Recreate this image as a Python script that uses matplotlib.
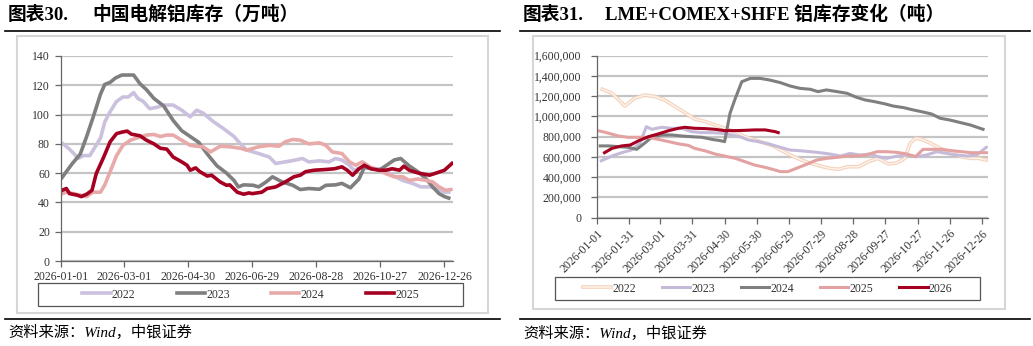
import matplotlib
matplotlib.use("Agg")
import matplotlib.pyplot as plt
from matplotlib.lines import Line2D
from matplotlib.patches import Rectangle
import matplotlib.patheffects as pe
from matplotlib.ticker import FuncFormatter

plt.rcParams['font.family'] = ['Liberation Serif', 'Noto Sans CJK SC', 'DejaVu Sans']

# ---------------- data: China electrolytic aluminium inventory (10k t) ----------------
cn_2022_days = [2,7,12,16,21,27,32,37,41,46,52,58,63,68,72,77,83,90,96,105,113,121,127,133,143,152,162,168,174,185,195,201,210,220,226,232,242,251,257,263,270,274,282,292,301,310,320,329,337,345,352,359,363]
cn_2022_vals = [80,77,73.4,70,72,72,78,84,95,102,109,112,112,115,111,109,104,105,106.5,106.5,103,98.5,103,101,95,90.5,85,80,75.7,73.4,71,66.6,67.7,69,70,67.7,68.4,67.7,70,69,65.4,62,64,63,63,58.6,55,53,50.6,50.6,49.5,47,47]
cn_2023_days = [1,5,10,18,24,30,37,41,46,51,57,68,74,80,87,96,105,113,121,129,137,146,155,162,166,171,180,185,192,198,207,217,224,232,242,248,257,263,271,279,284,292,298,304,312,318,326,334,342,348,354,359,363]
cn_2023_vals = [57,61,66,73,85,98,114,120.6,122,125,127,127,121,117,111,106,96,89,85,81,73,65,60,55,50.6,52,51.7,50.6,54,57.5,54,51.7,48.8,49.5,49,51.7,52,53,50,56,64,63,62,65,69,70,65,61,56,50.6,46,44,43]
cn_2024_days = [1,5,12,18,24,30,37,41,46,52,58,65,71,80,87,93,99,105,113,121,127,133,140,149,158,168,174,185,195,204,210,217,224,232,242,248,254,263,270,276,282,290,298,304,312,320,326,334,342,348,354,360,365]
cn_2024_vals = [46,47,46,45,44,47,47,52,61,72,79,82.5,84,86,86.4,85,86,86,82.5,79,78.4,78,74.5,78.4,78,77,75.7,78,79,78.4,81.4,83,82.5,80,80.7,79,74.5,73.4,67.7,65.4,67.7,64,62,59.7,57.5,57.5,55,56,55,54,50.6,48.3,48.8]
cn_2025_days = [1,5,8,15,19,24,29,33,40,46,52,57,62,66,74,80,87,93,99,105,113,118,121,126,130,137,141,149,155,158,165,171,176,179,188,193,201,210,218,224,229,237,248,256,263,268,273,279,284,290,298,304,310,317,321,326,335,345,351,359,366]
cn_2025_vals = [48.3,49.5,46,45,44,45.6,48.3,59.7,71,81.4,87,88,88.7,86.6,85.5,82.5,80,77,76.4,71,67.7,65.4,62,63.6,61,58,58.6,54,51.7,52,47,45.6,46.5,46,47,49.5,50.6,54,57.5,58.6,61,62,62.5,63,64.3,62,58.6,63,65.4,63,62,62,63,62,64.8,62,60,58.6,60,62,66.6]
cn_labels = ['2022', '2023', '2024', '2025']
cn_tick_days = [0, 59, 119, 179, 239, 299, 359]
cn_tick_labels = ['2026-01-01', '2026-03-01', '2026-04-30', '2026-06-29', '2026-08-28', '2026-10-27', '2026-12-26']
cn_yticks = [0, 20, 40, 60, 80, 100, 120, 140]

# ---------------- data: LME+COMEX+SHFE aluminium inventory (t) ----------------
ex_2022_days = [5,14,26,35,45,54,63,73,82,91,101,110,119,129,138,147,157,166,171,180,189,199,208,217,225,234,244,253,262,272,280,287,292,297,303,311,320,329,339,348,356,363]
ex_2022_vals = [1268000,1229000,1103000,1179000,1212000,1196000,1163000,1097000,1038000,975000,949000,916000,883000,850000,800000,768000,735000,702000,669000,620000,577000,537000,511000,488000,478000,504000,504000,553000,586000,530000,543000,586000,735000,784000,774000,735000,685000,652000,603000,586000,586000,570000]
ex_2023_days = [4,14,23,32,40,46,51,60,70,79,88,98,107,116,126,135,141,150,160,171,180,189,199,208,217,227,236,245,255,262,270,280,289,298,307,317,326,335,345,354,363]
ex_2023_vals = [563000,609000,642000,668000,735000,899000,873000,893000,883000,883000,850000,840000,840000,834000,817000,794000,768000,752000,729000,695000,668000,662000,652000,642000,629000,609000,635000,619000,629000,603000,586000,609000,619000,603000,619000,652000,635000,619000,609000,619000,695000]
ex_2024_days = [3,11,20,29,37,45,51,60,70,79,88,98,107,115,119,124,129,135,143,152,161,171,180,189,199,206,214,224,233,242,250,259,269,276,286,295,304,312,320,329,339,348,360]
ex_2024_vals = [709000,709000,702000,695000,675000,741000,794000,817000,817000,807000,800000,794000,774000,761000,751000,1030000,1180000,1343000,1376000,1376000,1360000,1334000,1301000,1278000,1268000,1245000,1262000,1245000,1229000,1189000,1163000,1146000,1123000,1103000,1087000,1064000,1044000,1024000,982000,965000,939000,916000,873000]
ex_2025_days = [1,11,20,29,39,48,57,67,76,85,91,101,110,119,129,138,147,157,166,171,178,186,196,205,214,224,233,242,251,261,270,280,289,297,304,312,321,331,340,349,359,365]
ex_2025_vals = [860000,834000,807000,794000,794000,794000,774000,751000,729000,715000,685000,660000,629000,609000,586000,553000,520000,497000,471000,455000,455000,488000,530000,570000,586000,596000,609000,609000,619000,652000,652000,645000,629000,603000,675000,675000,675000,662000,652000,642000,642000,642000]
ex_2026_days = [7,14,23,31,39,48,57,67,76,82,91,101,110,119,129,138,147,157,166,169]
ex_2026_vals = [642000,685000,709000,718000,761000,800000,827000,860000,883000,893000,883000,880000,873000,860000,860000,863000,867000,867000,850000,840000]
ex_labels = ['2022', '2023', '2024', '2025', '2026']
ex_tick_days = [0, 30, 59, 89, 119, 149, 179, 209, 239, 269, 299, 329, 359]
ex_tick_labels = ['2026-01-01', '2026-01-31', '2026-03-01', '2026-03-31', '2026-04-30', '2026-05-30',
                  '2026-06-29', '2026-07-29', '2026-08-28', '2026-09-27', '2026-10-27', '2026-11-26', '2026-12-26']
ex_yticks = [0, 200000, 400000, 600000, 800000, 1000000, 1200000, 1400000, 1600000]

# ---------------- layout ----------------
W, H = 1033, 346
fig = plt.figure(figsize=(W / 100, H / 100), dpi=100)


def box(x0, y0, x1, y1):
    return [x0 / W, 1 - y1 / H, (x1 - x0) / W, (y1 - y0) / H]


def hline(x0, x1, y, color='black', lw=1.2):
    fig.add_artist(Line2D([x0 / W, x1 / W], [1 - y / H, 1 - y / H], color=color, lw=lw,
                          transform=fig.transFigure))


def rect(x0, y0, x1, y1, color, lw):
    fig.add_artist(Rectangle((x0 / W, 1 - y1 / H), (x1 - x0) / W, (y1 - y0) / H, fill=False,
                             edgecolor=color, lw=lw, transform=fig.transFigure))


def ftext(x, y, s, **kw):
    fig.text(x / W, 1 - y / H, s, va='center', ha='left', **kw)


TXT = '#333333'
AXC = '#666666'
GRID = '#c4c4c4'

# titles
title_kw = dict(fontsize=13.5, fontweight='bold', color='black',
                family=['Liberation Serif', 'Noto Sans CJK SC'])
ftext(8, 15, '图表30.', **title_kw)
ftext(92, 15, '中国电解铝库存（万吨）', **title_kw)
ftext(523, 15, '图表31.', **title_kw)
ftext(605, 15, 'LME+COMEX+SHFE 铝库存变化（吨）', **title_kw)
hline(5, 500, 31)
hline(520, 1030, 31)

# frames
rect(17, 36, 488, 313, '#d6d6d6', 1.5)
rect(533, 36, 1005, 309, '#d6d6d6', 1.5)

# source lines
hline(5, 500, 319)
hline(520, 1030, 319)
src_kw = dict(fontsize=11, style='italic', color='black',
              family=['Liberation Serif', 'Noto Sans CJK SC'])
ftext(8, 332, '资料来源：Wind，中银证券', **src_kw)
ftext(523, 333, '资料来源：Wind，中银证券', **src_kw)


def style_axes(ax):
    for s in ['top', 'right']:
        ax.spines[s].set_visible(False)
    for s in ['left', 'bottom']:
        ax.spines[s].set_color(AXC)
        ax.spines[s].set_linewidth(0.9)
    ax.yaxis.grid(True, color=GRID, lw=1.6)
    ax.set_axisbelow(True)
    ax.tick_params(axis='both', direction='out', length=4, width=0.9, color=AXC,
                   labelsize=8.5, labelcolor=TXT)
    ax.set_facecolor('none')


# ---------------- left chart ----------------
ax1 = fig.add_axes(box(61, 56, 453, 261))
style_axes(ax1)
cn_colors = ['#cbc1de', '#7f7f7f', '#e8aaa8', '#a50021']
cn_series = [(cn_2022_days, cn_2022_vals), (cn_2023_days, cn_2023_vals),
             (cn_2024_days, cn_2024_vals), (cn_2025_days, cn_2025_vals)]
handles1 = []
for (d, v), c, lab in zip(cn_series, cn_colors, cn_labels):
    ln, = ax1.plot(d, v, color=c, lw=2.6, label=lab, solid_joinstyle='round')
    handles1.append(ln)
ax1.set_xlim(0, 367)
ax1.set_ylim(0, 140)
ax1.set_yticks(cn_yticks)
ax1.set_xticks(cn_tick_days)
ax1.set_xticklabels(cn_tick_labels)
ax1.tick_params(axis='y', pad=4)
ax1.tick_params(axis='x', pad=3)

rect(38, 283, 463, 306, '#555555', 0.9)
ax1.legend(handles=handles1, labels=cn_labels, loc='center',
           bbox_to_anchor=(250.5 / W, 1 - 294.5 / H), bbox_transform=fig.transFigure,
           ncol=4, frameon=False, fontsize=8.5, handlelength=2.4, handletextpad=0.1,
           columnspacing=3.5, labelcolor=TXT)

# ---------------- right chart ----------------
ax2 = fig.add_axes(box(597, 55.7, 988, 217.7))
style_axes(ax2)
ex_colors = ['#fbe3d3', '#c5bbd9', '#7f7f7f', '#e3a2a1', '#a50021']
ex_series = [(ex_2022_days, ex_2022_vals), (ex_2023_days, ex_2023_vals), (ex_2024_days, ex_2024_vals),
             (ex_2025_days, ex_2025_vals), (ex_2026_days, ex_2026_vals)]
handles2 = []
for i, ((d, v), c, lab) in enumerate(zip(ex_series, ex_colors, ex_labels)):
    if i == 0:
        ln, = ax2.plot(d, v, color='#fdf1e8', lw=1.2, label=lab,
                       path_effects=[pe.Stroke(linewidth=2.6, foreground='#f3cfb8'), pe.Normal()])
    else:
        ln, = ax2.plot(d, v, color=c, lw=2.2, label=lab, solid_joinstyle='round')
    handles2.append(ln)
ax2.set_xlim(0, 364.6)
ax2.set_ylim(0, 1600000)
ax2.set_yticks(ex_yticks)
ax2.yaxis.set_major_formatter(FuncFormatter(lambda v, p: f'{int(v):,}'))
ax2.set_xticks(ex_tick_days)
ax2.set_xticklabels(ex_tick_labels, rotation=45, ha='right', va='top', rotation_mode='anchor')
ax2.tick_params(axis='y', pad=7)
ax2.tick_params(axis='x', pad=3)

rect(555, 277, 980, 300, '#555555', 0.9)
ax2.legend(handles=handles2, labels=ex_labels, loc='center',
           bbox_to_anchor=(767.5 / W, 1 - 288.5 / H), bbox_transform=fig.transFigure,
           ncol=5, frameon=False, fontsize=8.5, handlelength=2.4, handletextpad=0.1,
           columnspacing=2.2, labelcolor=TXT)

fig.savefig('out.png', dpi=100)
